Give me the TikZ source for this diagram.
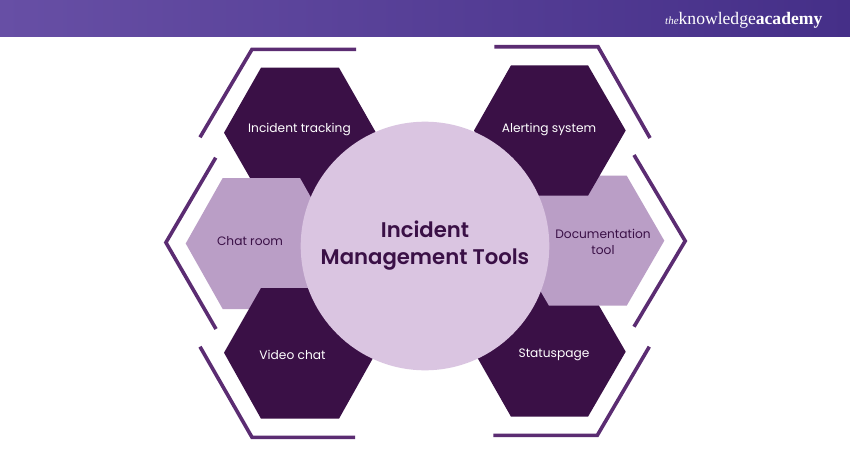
\documentclass[tikz,border=0pt]{standalone}
\usepackage{fontspec}
\setmainfont{Poppins}[BoldFont={Poppins SemiBold}]
\newfontfamily\logofont{Liberation Serif}
\definecolor{darkhex}{HTML}{3A1046}
\definecolor{lighthex}{HTML}{BA9EC6}
\definecolor{circfill}{HTML}{DAC5E1}
\definecolor{bracket}{HTML}{5B2C72}
\definecolor{headl}{HTML}{674FA5}
\definecolor{headr}{HTML}{452F88}
\tikzset{
  darkh/.style={fill=darkhex,draw=none},
  lighth/.style={fill=lighthex,draw=none},
  brk/.style={draw=bracket,line width=3.6pt,line join=miter,line cap=butt},
  lbl/.style={font=\fontsize{12.2}{16}\selectfont,align=center,inner sep=0pt},
}
\begin{document}
\begin{tikzpicture}[x=1pt,y=-1pt]
\useasboundingbox (0,0) rectangle (850,450);
\fill[white] (0,0) rectangle (850,450);
\shade[left color=headl,right color=headr,draw=none] (0,0) rectangle (850,36);
\node[anchor=base west,inner sep=0pt,text=white] (logo) at (665,24)
  {\logofont\fontsize{11}{11}\selectfont\textit{the}\fontsize{17.6}{18}\selectfont knowledge\textbf{academy}};
% brackets
\draw[brk] (200,137.3) -- (252,49.3) -- (356,49.3);
\draw[brk] (215.7,157.7) -- (165.9,242.5) -- (216,329);
\draw[brk] (200,346.7) -- (252,437.3) -- (355,437.3);
\draw[brk] (494.3,46.7) -- (598,46.7) -- (650,138);
\draw[brk] (634,155) -- (685.2,241) -- (634,326.7);
\draw[brk] (649.3,346.7) -- (597.3,435.3) -- (493.3,435.3);
% hexagons, back to front
\fill[darkh] (224,132.7) -- (261,67.7) -- (339,67.7) -- (376,132.7) -- (339,197) -- (261,197) -- cycle;
\fill[darkh] (474,351.7) -- (511,286.7) -- (588,286.7) -- (625.7,351.7) -- (588,416.7) -- (511,416.7) -- cycle;
\fill[lighth] (185.7,243.5) -- (222.7,178) -- (300,178) -- (337,243.5) -- (300,309) -- (222.7,309) -- cycle;
\fill[lighth] (511,240.7) -- (549,175.7) -- (626.7,175.7) -- (664.3,240.7) -- (626.7,305.7) -- (549,305.7) -- cycle;
\fill[darkh] (511,65.3) -- (588,65.3) -- (625.7,130.5) -- (588,195.7) -- (511,195.7) -- (474,130.5) -- cycle;
\fill[darkh] (224,352.7) -- (261,288) -- (339,288) -- (376,352.7) -- (339,418.7) -- (261,418.7) -- cycle;
% centre
\node[circle,fill=circfill,draw=none,minimum size=248.6pt,inner sep=0pt] (hub) at (425,246) {};
% labels
\node[lbl,text=white] (a) at (299.5,130) {Incident tracking};
\node[lbl,text=white] (b) at (549,130) {Alerting system};
\node[lbl,text=darkhex] (c) at (250,241.5) {Chat room};
\node[lbl,text=darkhex] (d) at (603,241.5) {Documentation\\tool};
\node[lbl,text=white] (e) at (292.5,354.5) {Video chat};
\node[lbl,text=white] (f) at (554,355) {Statuspage};
\node[inner sep=0pt,align=center,text=darkhex,font=\fontsize{21.2}{27}\selectfont\bfseries] (t) at (425,245.5) {Incident\\Management Tools};
\end{tikzpicture}
\end{document}
